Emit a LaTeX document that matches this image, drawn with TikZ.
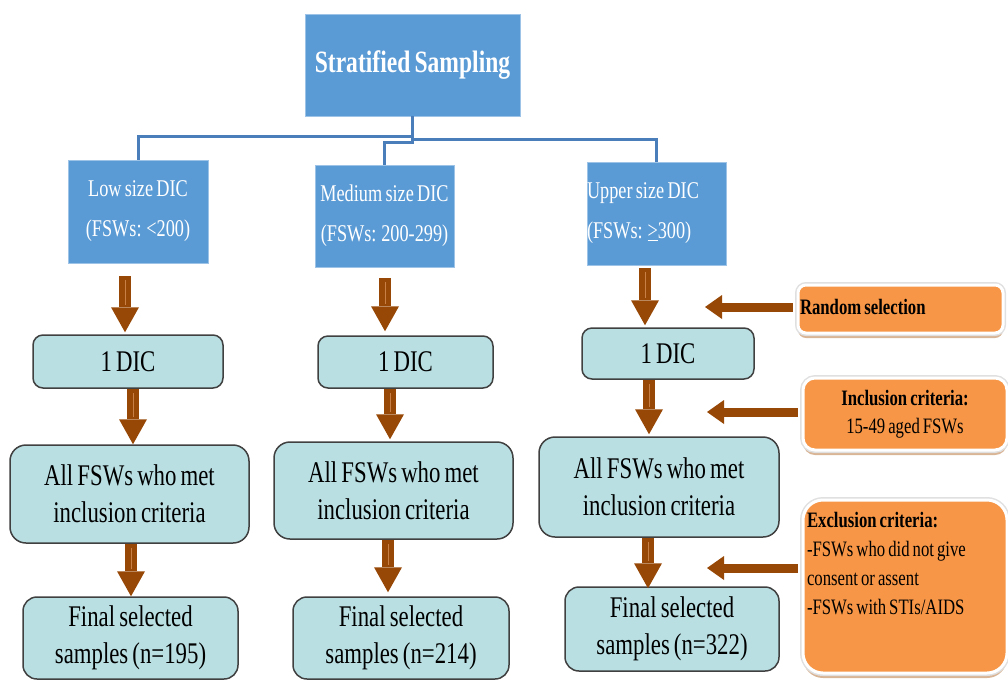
\documentclass[tikz,border=0pt]{standalone}
\usepackage{fontspec}
\setmainfont{Liberation Serif}[FakeStretch=0.76,WordSpace=0.72]
\usetikzlibrary{arrows.meta,shadows,calc}
\definecolor{sblue}{HTML}{5B9BD5}
\definecolor{sblueline}{HTML}{4A7EBB}
\definecolor{steal}{HTML}{B9DFE3}
\definecolor{tborder}{HTML}{404040}
\definecolor{sorange}{HTML}{F79646}
\definecolor{oshadow}{HTML}{D9B596}
\definecolor{sbrown}{HTML}{974806}
\definecolor{hilite}{HTML}{C98047}
\tikzset{
  bluebox/.style={fill=sblue, draw=sblue!60!white, line width=0.8pt, text=white, inner sep=0pt,
    font=\fontsize{24pt}{40pt}\selectfont, align=center},
  tealbox/.style={fill=steal, draw=tborder, line width=1.5pt, rounded corners=10pt, inner sep=0pt,
    font=\fontsize{30pt}{37pt}\selectfont, align=center},
  orbox/.style={fill=sorange, draw=white, line width=3pt, inner sep=0pt,
    drop shadow={shadow xshift=0pt, shadow yshift=-5pt, fill=oshadow, opacity=1},
    preaction={draw=black!12, line width=6pt},
    font=\fontsize{22pt}{28pt}\selectfont},
  conn/.style={draw=sblueline, line width=3pt},
  barrow/.style={draw=sbrown, line width=12pt, -{Triangle[width=28pt,length=25pt,line width=0pt]},
    postaction={draw=hilite, line width=1pt, -, shorten >=27pt, shorten <=4pt}},
  harrow/.style={draw=sbrown, line width=9pt, -{Triangle[width=24pt,length=17pt,line width=0pt]}},
}
\begin{document}
\begin{tikzpicture}[x=1pt,y=-1pt]
\useasboundingbox (0,0) rectangle (1008,681);

% top level
\node[bluebox, minimum width=215pt, minimum height=102pt, font=\bfseries\fontsize{31pt}{36pt}\selectfont]
  (top) at (412.5,65) {Stratified Sampling};

% strata
\node[bluebox, minimum width=140pt, minimum height=103pt] (low) at (138,211.5)
  {Low size DIC\\(FSWs: <200)};
\node[bluebox, minimum width=139pt, minimum height=102pt] (med) at (384.5,216)
  {Medium size DIC\\(FSWs: 200-299)};
\node[bluebox, text width=139pt, minimum height=103pt, align=flush left] (up) at (656.5,213.5)
  {Upper size DIC\\(FSWs: \underline{>}300)};

% connectors
\draw[conn] (top.south) -- ++(0,20) -| (low.north);
\draw[conn] (top.south) -- ++(0,26) -| (med.north);
\draw[conn] (top.south) -- ++(0,23) -| (up.north);

% 1 DIC
\node[tealbox, minimum width=190pt, minimum height=53pt] (dic1) at (128,361.5) {1 DIC};
\node[tealbox, minimum width=175pt, minimum height=52pt] (dic2) at (405.5,362) {1 DIC};
\node[tealbox, minimum width=172pt, minimum height=51pt] (dic3) at (668,353.5) {1 DIC};

% All FSWs
\node[tealbox, rounded corners=16pt, minimum width=239pt, minimum height=98pt] (all1) at (129.5,494)
  {All FSWs who met\\inclusion criteria};
\node[tealbox, rounded corners=16pt, minimum width=239pt, minimum height=97pt] (all2) at (393.5,490.5)
  {All FSWs who met\\inclusion criteria};
\node[tealbox, rounded corners=16pt, minimum width=240pt, minimum height=100pt] (all3) at (659,487)
  {All FSWs who met\\inclusion criteria};

% Final
\node[tealbox, rounded corners=14pt, minimum width=215pt, minimum height=82pt] (fin1) at (130.5,638)
  {Final selected\\samples (n=195)};
\node[tealbox, rounded corners=14pt, minimum width=216pt, minimum height=82pt] (fin2) at (401,638)
  {Final selected\\samples (n=214)};
\node[tealbox, rounded corners=14pt, minimum width=214pt, minimum height=84pt] (fin3) at (672,629)
  {Final selected\\samples (n=322)};

% orange side boxes
\node[orbox, rounded corners=8pt, minimum width=205pt, minimum height=48pt, text width=201pt, align=flush left,
  font=\bfseries\fontsize{22pt}{28pt}\selectfont] (rand) at (900.5,309) {\raisebox{5pt}{Random selection}};
\node[orbox, rounded corners=12pt, minimum width=204pt, minimum height=72pt, align=center] (incl) at (905,414)
  {\textbf{Inclusion criteria:}\\15-49 aged FSWs};
\node[orbox, rounded corners=20pt, minimum width=204pt, minimum height=173pt] (excl) at (905,586.5)
  {\parbox[c][157pt][t]{196pt}{\raggedright\baselineskip=29pt\strut\textbf{Exclusion criteria:}\\
   -FSWs who did not give\\consent or assent\\-FSWs with STIs/AIDS}};

% vertical block arrows
\draw[barrow] ([xshift=-13pt,yshift=-13pt]low.south) -- ([xshift=-3pt,yshift=2pt]dic1.north);
\draw[barrow] ([xshift=5pt]dic1.south) -- ([xshift=3.5pt]all1.north);
\draw[barrow] ([xshift=1.5pt]all1.south) -- ([xshift=0.5pt]fin1.north);

\draw[barrow] ([xshift=0.5pt,yshift=-11pt]med.south) -- ([xshift=-20.5pt,yshift=4pt]dic2.north);
\draw[barrow] ([xshift=-15.5pt]dic2.south) -- ([xshift=-3.5pt,yshift=2pt]all2.north);
\draw[barrow] ([xshift=-5.5pt]all2.south) -- ([xshift=-13pt,yshift=4pt]fin2.north);

\draw[barrow] ([xshift=-11.5pt,yshift=-3pt]up.south) -- ([xshift=-23pt,yshift=2pt]dic3.north);
\draw[barrow] ([xshift=-19pt]dic3.south) -- ([xshift=-10pt,yshift=2pt]all3.north);
\draw[barrow] ([xshift=-11pt]all3.south) -- ([xshift=-24pt,yshift=-2pt]fin3.north);

% horizontal arrows from side boxes
\coordinate (t1) at (705,307);
\coordinate (t2) at (707,412);
\coordinate (t3) at (707,568);
\draw[harrow] ([xshift=-4pt]rand.west |- t1) -- (t1);
\draw[harrow] ([xshift=-4pt]incl.west |- t2) -- (t2);
\draw[harrow] ([xshift=-4pt]excl.west |- t3) -- (t3);
\end{tikzpicture}
\end{document}
